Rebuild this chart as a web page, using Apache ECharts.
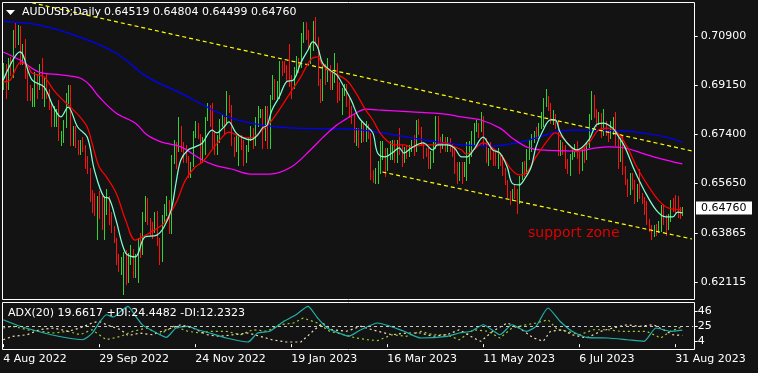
<!DOCTYPE html>
<html><head><meta charset="utf-8">
<script src="https://cdn.jsdelivr.net/npm/echarts@6/dist/echarts.min.js"></script>
<style>html,body{margin:0;padding:0;background:#131313;}#c{width:758px;height:373px;}</style>
</head><body><div id="c"></div>
<script>
const symbolName = "AUDUSD;Daily";
const tickLabels = ["4 Aug 2022","29 Sep 2022","24 Nov 2022","19 Jan 2023","16 Mar 2023","11 May 2023","6 Jul 2023","31 Aug 2023"];
const tickStep = 40;
const priceTicks = [0.70900,0.69150,0.67400,0.65650,0.63865,0.62115];
const adxTicks = [46,25,4];
const adxInfo = "ADX(20) 19.6617 +DI:24.4482 -DI:12.2323";
const annotation = "support zone";

const opens = [
.6920,.6985,.6910,.7000,.6967,.7100,.7076,.7123,.7030,.7050,
.6955,.6885,.6875,.6880,.6945,.6910,.6975,.6880,.6940,.6880,
.6845,.6780,.6800,.6810,.6730,.6745,.6770,.6870,.6890,.6725,
.6760,.6710,.6700,.6710,.6690,.6635,.6610,.6520,.6480,.6465,
.6500,.6470,.6405,.6500,.6510,.6435,.6395,.6365,.6285,.6270,
.6285,.6310,.6215,.6305,.6315,.6240,.6285,.6365,.6320,.6450,
.6495,.6430,.6420,.6395,.6405,.6360,.6290,.6445,.6480,.6500,
.6430,.6655,.6695,.6685,.6735,.6710,.6665,.6655,.6590,.6630,
.6745,.6765,.6735,.6650,.6715,.6795,.6815,.6785,.6705,.6690,
.6720,.6790,.6795,.6785,.6850,.6840,.6720,.6700,.6710,.6725,
.6700,.6650,.6690,.6725,.6750,.6710,.6795,.6810,.6815,.6730,
.6825,.6720,.6870,.6920,.6880,.6915,.6980,.6975,.6970,.6940,
.6925,.6920,.6970,.7000,.6985,.7090,.7110,.7105,.7050,.7055,
.7140,.7075,.6920,.6870,.6975,.6940,.6965,.6920,.6945,.6990,
.6880,.6870,.6895,.6905,.6860,.6820,.6800,.6725,.6740,.6730,
.6775,.6735,.6750,.6740,.6590,.6585,.6605,.6630,.6655,.6680,
.6625,.6660,.6690,.6710,.6660,.6715,.6680,.6650,.6685,.6670,
.6685,.6710,.6685,.6770,.6760,.6705,.6680,.6670,.6640,.6650,
.6700,.6780,.6710,.6705,.6725,.6700,.6710,.6695,.6680,.6610,
.6595,.6615,.6610,.6625,.6690,.6700,.6710,.6765,.6770,.6760,
.6785,.6720,.6645,.6680,.6665,.6660,.6640,.6650,.6645,.6610,
.6570,.6520,.6515,.6535,.6530,.6505,.6585,.6630,.6605,.6670,
.6700,.6730,.6745,.6740,.6770,.6795,.6860,.6870,.6845,.6795,
.6800,.6780,.6680,.6705,.6690,.6630,.6615,.6660,.6670,.6700,
.6670,.6620,.6680,.6670,.6700,.6800,.6860,.6815,.6785,.6810,
.6745,.6780,.6750,.6745,.6775,.6780,.6715,.6650,.6720,.6610,
.6570,.6535,.6580,.6565,.6510,.6545,.6520,.6505,.6480,.6425,
.6410,.6380,.6405,.6400,.6405,.6470,.6430,.6410,.6440,.6495,
.6490,.6470,.6455,.64519];
const highs = [
.6995,.6990,.7010,.7015,.7110,.7136,.7130,.7125,.7060,.7080,
.6970,.6915,.6905,.6960,.6955,.6990,.7010,.6945,.6955,.6900,
.6850,.6840,.6830,.6860,.6750,.6790,.6885,.6915,.6915,.6770,
.6770,.6720,.6720,.6730,.6700,.6660,.6620,.6540,.6530,.6520,
.6535,.6520,.6520,.6545,.6520,.6460,.6410,.6370,.6310,.6300,
.6320,.6325,.6315,.6345,.6330,.6310,.6370,.6385,.6460,.6520,
.6510,.6440,.6425,.6460,.6465,.6370,.6450,.6490,.6520,.6505,
.6665,.6720,.6710,.6800,.6770,.6710,.6700,.6660,.6640,.6750,
.6785,.6780,.6740,.6730,.6800,.6850,.6845,.6850,.6750,.6735,
.6795,.6810,.6800,.6893,.6880,.6845,.6730,.6735,.6740,.6735,
.6720,.6700,.6730,.6770,.6760,.6800,.6840,.6830,.6830,.6840,
.6840,.6880,.6950,.6935,.6930,.7000,.7000,.7000,.6985,.7060,
.6950,.6980,.7020,.7010,.7100,.7140,.7140,.7110,.7065,.7145,
.7158,.7085,.6935,.6985,.6990,.7010,.6985,.6960,.7030,.6995,
.6925,.6905,.6920,.6920,.6870,.6840,.6810,.6760,.6760,.6785,
.6780,.6785,.6775,.6745,.6610,.6620,.6645,.6715,.6715,.6690,
.6690,.6715,.6720,.6720,.6720,.6760,.6700,.6695,.6700,.6700,
.6720,.6735,.6790,.6795,.6765,.6710,.6690,.6690,.6680,.6710,
.6805,.6805,.6730,.6740,.6730,.6730,.6725,.6705,.6690,.6640,
.6640,.6640,.6640,.6710,.6715,.6750,.6780,.6790,.6780,.6818,
.6805,.6725,.6690,.6710,.6680,.6680,.6690,.6670,.6665,.6620,
.6575,.6535,.6545,.6560,.6545,.6590,.6640,.6645,.6685,.6720,
.6740,.6750,.6765,.6780,.6820,.6870,.6900,.6875,.6850,.6825,
.6810,.6785,.6720,.6710,.6700,.6650,.6670,.6690,.6705,.6715,
.6675,.6685,.6695,.6710,.6810,.6895,.6880,.6830,.6820,.6815,
.6830,.6785,.6755,.6785,.6800,.6820,.6740,.6725,.6735,.6625,
.6580,.6600,.6600,.6575,.6560,.6615,.6530,.6515,.6500,.6435,
.6415,.6415,.6420,.6430,.6485,.6490,.6450,.6455,.6505,.6510,
.6522,.6520,.6480,.64804];
const lows = [
.6900,.6870,.6900,.6950,.6945,.7050,.7060,.6990,.6990,.6940,
.6860,.6860,.6840,.6840,.6870,.6900,.6870,.6840,.6870,.6830,
.6770,.6770,.6770,.6720,.6700,.6710,.6765,.6850,.6700,.6700,
.6695,.6670,.6670,.6680,.6620,.6600,.6500,.6460,.6450,.6365,
.6440,.6400,.6365,.6455,.6420,.6390,.6355,.6275,.6250,.6240,
.6170,.6205,.6210,.6275,.6230,.6230,.6210,.6300,.6310,.6430,
.6420,.6380,.6370,.6390,.6345,.6275,.6285,.6425,.6450,.6385,
.6385,.6635,.6620,.6680,.6680,.6640,.6640,.6585,.6585,.6625,
.6730,.6725,.6640,.6640,.6670,.6790,.6770,.6695,.6670,.6670,
.6710,.6770,.6740,.6780,.6820,.6700,.6660,.6680,.6630,.6685,
.6630,.6640,.6680,.6720,.6690,.6700,.6770,.6800,.6690,.6720,
.6690,.6690,.6865,.6865,.6860,.6870,.6950,.6960,.6930,.6910,
.6870,.6905,.6950,.6960,.6980,.7070,.7080,.7045,.6995,.7040,
.7060,.6915,.6855,.6860,.6920,.6930,.6900,.6900,.6925,.6855,
.6860,.6810,.6880,.6840,.6800,.6780,.6710,.6700,.6695,.6710,
.6715,.6715,.6725,.6580,.6568,.6565,.6565,.6600,.6650,.6590,
.6610,.6650,.6650,.6640,.6640,.6670,.6625,.6640,.6655,.6660,
.6680,.6665,.6680,.6740,.6700,.6655,.6660,.6620,.6620,.6640,
.6690,.6700,.6675,.6690,.6680,.6680,.6680,.6660,.6600,.6565,
.6575,.6565,.6590,.6575,.6635,.6660,.6700,.6750,.6730,.6750,
.6700,.6640,.6630,.6650,.6630,.6630,.6620,.6630,.6595,.6560,
.6515,.6490,.6505,.6510,.6458,.6495,.6580,.6590,.6600,.6650,
.6680,.6710,.6725,.6725,.6760,.6770,.6840,.6825,.6780,.6775,
.6760,.6665,.6665,.6670,.6620,.6600,.6595,.6650,.6660,.6655,
.6600,.6610,.6640,.6650,.6695,.6795,.6800,.6770,.6775,.6730,
.6735,.6735,.6715,.6725,.6740,.6700,.6620,.6645,.6598,.6560,
.6520,.6525,.6545,.6495,.6500,.6510,.6495,.6455,.6420,.6395,
.6365,.6375,.6380,.6390,.6395,.6420,.6380,.6400,.6430,.6465,
.6455,.6445,.6440,.64499];
const closes = [
.6985,.6910,.7000,.6967,.7100,.7076,.7123,.7030,.7050,.6955,
.6885,.6875,.6880,.6945,.6910,.6975,.6880,.6940,.6880,.6845,
.6780,.6800,.6810,.6730,.6745,.6770,.6870,.6890,.6725,.6760,
.6710,.6700,.6710,.6690,.6635,.6610,.6520,.6480,.6465,.6500,
.6470,.6405,.6500,.6510,.6435,.6395,.6365,.6285,.6270,.6285,
.6310,.6215,.6305,.6315,.6240,.6285,.6365,.6320,.6450,.6495,
.6430,.6420,.6395,.6405,.6360,.6290,.6445,.6480,.6500,.6430,
.6655,.6695,.6685,.6735,.6710,.6665,.6655,.6590,.6630,.6745,
.6765,.6735,.6650,.6715,.6795,.6815,.6785,.6705,.6690,.6720,
.6790,.6795,.6785,.6850,.6840,.6720,.6700,.6710,.6725,.6700,
.6650,.6690,.6725,.6750,.6710,.6795,.6810,.6815,.6730,.6825,
.6720,.6870,.6920,.6880,.6915,.6980,.6975,.6970,.6940,.6925,
.6920,.6970,.7000,.6985,.7090,.7110,.7105,.7050,.7055,.7140,
.7075,.6920,.6870,.6975,.6940,.6965,.6920,.6945,.6990,.6880,
.6870,.6895,.6905,.6860,.6820,.6800,.6725,.6740,.6730,.6775,
.6735,.6750,.6740,.6590,.6585,.6605,.6630,.6655,.6680,.6625,
.6660,.6690,.6710,.6660,.6715,.6680,.6650,.6685,.6670,.6685,
.6710,.6685,.6770,.6760,.6705,.6680,.6670,.6640,.6650,.6700,
.6780,.6710,.6705,.6725,.6700,.6710,.6695,.6680,.6610,.6595,
.6615,.6610,.6625,.6690,.6700,.6710,.6765,.6770,.6760,.6785,
.6720,.6645,.6680,.6665,.6660,.6640,.6650,.6645,.6610,.6570,
.6520,.6515,.6535,.6530,.6505,.6585,.6630,.6605,.6670,.6700,
.6730,.6745,.6740,.6770,.6795,.6860,.6870,.6845,.6795,.6800,
.6780,.6680,.6705,.6690,.6630,.6615,.6660,.6670,.6700,.6670,
.6620,.6680,.6670,.6700,.6800,.6860,.6815,.6785,.6810,.6745,
.6780,.6750,.6745,.6775,.6780,.6715,.6650,.6720,.6610,.6570,
.6535,.6580,.6565,.6510,.6545,.6520,.6505,.6480,.6425,.6410,
.6380,.6405,.6400,.6405,.6470,.6430,.6410,.6440,.6495,.6490,
.6470,.6455,.6450,.64760];

// moving averages: [bar index, value]
const fastMA = [[0,0.6933],[7,0.7033],[12,0.6933],[17,0.6908],[21,0.6836],[24,0.6801],[27,0.6836],[31,0.6765],[35,0.6729],[38,0.6611],[42,0.6515],[44,0.6511],[47,0.6433],[51,0.6315],[55,0.6301],[59,0.6372],[64,0.6379],[67,0.6408],[70,0.6469],[72,0.6565],[74,0.6647],[77,0.6683],[80,0.6694],[83,0.6708],[87,0.6754],[89,0.6744],[92,0.6765],[94,0.6783],[97,0.6744],[100,0.6726],[103,0.6719],[106,0.6736],[108,0.6761],[110,0.6772],[112,0.6826],[115,0.6872],[118,0.6926],[121,0.6933],[124,0.6994],[127,0.7040],[129,0.7069],[131,0.7051],[133,0.6994],[136,0.6969],[139,0.6951],[142,0.6908],[145,0.6861],[148,0.6801],[151,0.6772],[154,0.6744],[156,0.6672],[159,0.6658],[162,0.6672],[165,0.6690],[167,0.6672],[170,0.6690],[175,0.6708],[179,0.6683],[181,0.6701],[185,0.6701],[188,0.6690],[191,0.6658],[193,0.6658],[196,0.6683],[200,0.6729],[202,0.6708],[204,0.6683],[207,0.6672],[210,0.6622],[212,0.6565],[215,0.6558],[217,0.6576],[220,0.6622],[222,0.6694],[225,0.6754],[228,0.6790],[230,0.6790],[232,0.6747],[235,0.6708],[239,0.6683],[244,0.6719],[247,0.6772],[250,0.6779],[254,0.6761],[256,0.6736],[259,0.6694],[263,0.6611],[267,0.6540],[272,0.6469],[276,0.6444],[279,0.6444],[281,0.6461],[283,0.6458]];
const midMA = [[0,0.6926],[3,0.6933],[5,0.6969],[7,0.6994],[10,0.6986],[12,0.6958],[17,0.6944],[21,0.6897],[24,0.6869],[28,0.6836],[32,0.6801],[35,0.6765],[37,0.6708],[40,0.6622],[43,0.6587],[47,0.6530],[51,0.6433],[55,0.6361],[58,0.6372],[63,0.6397],[67,0.6422],[72,0.6494],[76,0.6576],[80,0.6622],[83,0.6640],[87,0.6683],[92,0.6736],[94,0.6747],[99,0.6729],[103,0.6726],[107,0.6747],[111,0.6779],[115,0.6826],[119,0.6879],[124,0.6944],[128,0.7004],[131,0.7015],[133,0.6986],[137,0.6961],[143,0.6933],[147,0.6886],[151,0.6826],[154,0.6790],[157,0.6744],[160,0.6715],[163,0.6701],[167,0.6701],[170,0.6694],[175,0.6701],[179,0.6701],[184,0.6708],[188,0.6694],[191,0.6683],[193,0.6668],[196,0.6683],[200,0.6708],[204,0.6690],[208,0.6658],[212,0.6611],[215,0.6594],[218,0.6601],[222,0.6658],[227,0.6719],[230,0.6744],[234,0.6719],[239,0.6676],[244,0.6708],[248,0.6754],[252,0.6761],[256,0.6744],[260,0.6694],[264,0.6622],[269,0.6551],[273,0.6504],[277,0.6476],[283,0.6469]];
const slowMA = [[0,0.7033],[7,0.7004],[15,0.6961],[24,0.6951],[32,0.6940],[36,0.6915],[40,0.6872],[47,0.6815],[55,0.6779],[60,0.6736],[66,0.6711],[74,0.6694],[83,0.6647],[88,0.6629],[95,0.6615],[103,0.6597],[111,0.6597],[120,0.6622],[128,0.6683],[133,0.6726],[139,0.6772],[143,0.6794],[147,0.6815],[151,0.6829],[156,0.6826],[170,0.6819],[184,0.6811],[191,0.6801],[199,0.6790],[207,0.6761],[212,0.6726],[218,0.6694],[224,0.6683],[239,0.6679],[247,0.6690],[252,0.6694],[259,0.6690],[266,0.6672],[273,0.6654],[283,0.6633]];
const longMA = [[0,0.7142],[15,0.7129],[32,0.7086],[47,0.7029],[60,0.6944],[74,0.6886],[85,0.6836],[95,0.6797],[108,0.6772],[122,0.6761],[143,0.6758],[156,0.6747],[170,0.6726],[184,0.6708],[191,0.6701],[204,0.6697],[214,0.6708],[225,0.6733],[232,0.6751],[239,0.6754],[259,0.6751],[269,0.6740],[276,0.6729],[283,0.6711]];
const upperTrend = [[12,0.72086],[287,0.66793]];
const lowerTrend = [[158,0.66043],[287,0.63650]];

const adxLine = [[0,34.2],[7,25.0],[12,20.2],[20,13.2],[27,8.6],[33,6.2],[37,15],[40,30],[43,41.2],[46,38],[49,46.0],[52,53.0],[55,40],[58,27],[64,15.6],[68,9.6],[72,22.6],[77,25.0],[81,20.2],[86,15.6],[93,8.6],[102,3.0],[106,15.6],[111,18.0],[117,32.0],[122,41.2],[127,53.0],[131,36.6],[135,22.6],[140,15.6],[144,11.0],[149,20.2],[156,29.6],[167,18.0],[174,8.6],[185,11.0],[190,15.6],[195,18.0],[200,27.2],[207,13.2],[212,27.2],[218,18.0],[222,25.0],[227,50.6],[232,32.0],[237,18.0],[243,9.6],[252,8.6],[260,6.2],[267,4.0],[272,22.6],[278,18.0],[283,19.66]];
const plusDI = [[0,22.6],[4,25],[10,20.2],[15,18],[21,15.6],[27,18],[32,13.2],[37,20.2],[43,6.2],[49,11],[54,18],[60,22.6],[65,13.2],[71,25],[77,18],[82,15.6],[87,18],[93,18],[99,13.2],[104,20.2],[110,18],[115,27.2],[121,29.6],[125,36.6],[131,29.6],[136,18],[142,13.2],[147,8.6],[152,6.2],[156,5],[162,13.2],[168,11],[174,18],[179,13.2],[185,13.2],[190,6],[196,20.2],[202,18],[207,8.6],[212,22.6],[218,27.2],[222,29.6],[227,34.2],[231,20.2],[235,18],[240,13.2],[246,20.2],[252,20.2],[257,18],[262,18],[268,18],[274,8.6],[278,18],[283,24.45]];
const minusDI = [[0,6.2],[4,11],[10,13.2],[15,20.2],[21,22.6],[27,18],[32,22.6],[37,29.6],[40,32],[43,27.2],[49,20.2],[52,12],[57,15.6],[62,13.2],[68,20.2],[74,27.2],[79,22.6],[85,13.2],[90,11],[96,13.2],[102,15.6],[107,11],[112,6.2],[118,3],[124,3],[129,18],[133,29.6],[137,20.2],[143,18],[149,25],[156,18],[162,13.2],[168,15.6],[174,15.6],[179,11],[185,13.2],[190,20.2],[196,8.6],[199,4],[204,18],[210,29.6],[215,22.6],[221,8.6],[225,4],[228,18],[233,20.2],[237,13.2],[243,8.6],[249,18],[254,22.6],[260,27.2],[265,25],[271,27.2],[275,20.2],[279,13.2],[283,12.23]];
const adxLevel = 25;

const FONT = 'DejaVu Sans';
const nCats = 288;
const categories = Array.from({length: nCats}, (_, i) => String(i));
const isTick = (idx) => idx % tickStep === 0 && idx / tickStep < tickLabels.length;

const chart = echarts.init(document.getElementById('c'), null, {renderer: 'canvas'});
const maLine = (data, color, z) => ({
  type: 'line', xAxisIndex: 0, yAxisIndex: 0, data, symbol: 'none', smooth: 0.35,
  lineStyle: {color, width: 1.25}, z, silent: true, animation: false
});
const trend = (data) => ({
  type: 'line', xAxisIndex: 0, yAxisIndex: 0, data, symbol: 'none',
  lineStyle: {color: '#ffff00', width: 1.2, type: [4, 3]}, z: 4, silent: true, animation: false
});

chart.setOption({
  backgroundColor: '#131313',
  animation: false,
  grid: [
    {left: 2, top: 2, width: 691.2, height: 297},
    {left: 2, top: 302, width: 691.2, height: 47}
  ],
  xAxis: [
    {type: 'category', gridIndex: 0, data: categories, boundaryGap: true,
     axisLine: {show: false}, axisTick: {show: false}, axisLabel: {show: false}, splitLine: {show: false}},
    {type: 'category', gridIndex: 1, data: categories, boundaryGap: true,
     axisLine: {show: false},
     axisTick: {show: true, alignWithLabel: true, interval: (i) => isTick(i), length: 3, lineStyle: {color: '#ffffff'}},
     axisLabel: {show: true, interval: (i) => isTick(i), formatter: (v, i) => tickLabels[Math.round(i / tickStep)],
       color: '#ffffff', fontFamily: FONT, fontSize: 11, align: 'left', margin: 5},
     splitLine: {show: false}}
  ],
  yAxis: [
    {type: 'value', gridIndex: 0, position: 'right', min: 0.61507, max: 0.72114, offset: 1.5,
     axisLine: {show: false}, splitLine: {show: false},
     axisTick: {show: true, customValues: priceTicks, length: 3, lineStyle: {color: '#ffffff'}},
     axisLabel: {show: true, customValues: priceTicks, formatter: (v) => v.toFixed(5),
       color: '#ffffff', fontFamily: FONT, fontSize: 11, margin: 6}},
    {type: 'value', gridIndex: 1, position: 'right', min: -6.78, max: 59.02, offset: 1.5,
     axisLine: {show: false}, splitLine: {show: false},
     axisTick: {show: true, customValues: adxTicks, length: 3, lineStyle: {color: '#ffffff'}},
     axisLabel: {show: true, customValues: adxTicks, formatter: (v) => String(v),
       color: '#ffffff', fontFamily: FONT, fontSize: 11, margin: 3}}
  ],
  series: [
    {
      type: 'custom', xAxisIndex: 0, yAxisIndex: 0, z: 2, silent: true,
      data: opens.map((o, i) => [i, o, highs[i], lows[i], closes[i]]),
      encode: {x: 0, y: [2, 3]},
      renderItem: function (params, api) {
        const i = api.value(0);
        const hi = api.coord([i, api.value(2)]);
        const lo = api.coord([i, api.value(3)]);
        const up = api.value(4) >= api.value(1);
        const x = Math.round(hi[0]) + 0.5;
        return {type: 'line', shape: {x1: x, y1: Math.round(hi[1]), x2: x, y2: Math.round(lo[1]) + 1},
          style: {stroke: up ? '#32d232' : '#ff1010', lineWidth: 1}};
      }
    },
    maLine(longMA, '#0000ff', 3),
    maLine(slowMA, '#ff00ff', 3),
    maLine(midMA, '#ff0000', 5),
    maLine(fastMA, '#7fffd4', 6),
    trend(upperTrend),
    trend(lowerTrend),
    {type: 'line', xAxisIndex: 1, yAxisIndex: 1, data: adxLine, symbol: 'none', smooth: 0.2,
     lineStyle: {color: '#20b2aa', width: 1.2}, z: 4, silent: true,
     markLine: {silent: true, symbol: 'none', label: {show: false}, animation: false,
       lineStyle: {color: '#c8c8c8', width: 1, type: [3, 3]}, data: [{yAxis: adxLevel}]}},
    {type: 'line', xAxisIndex: 1, yAxisIndex: 1, data: plusDI, symbol: 'none',
     lineStyle: {color: '#9acd32', width: 1.2, type: [2, 3]}, z: 3, silent: true},
    {type: 'line', xAxisIndex: 1, yAxisIndex: 1, data: minusDI, symbol: 'none',
     lineStyle: {color: '#f5deb3', width: 1.2, type: [2, 3]}, z: 3, silent: true}
  ]
});

const last = closes.length - 1;
const py = Math.round(chart.convertToPixel({yAxisIndex: 0}, closes[last]));
const header = [opens[last], highs[last], lows[last], closes[last]].map(v => v.toFixed(5)).join(' ');

chart.setOption({
  graphic: [
    {type: 'rect', z: 100, silent: true, shape: {x: 2.5, y: 2.5, width: 692, height: 297},
     style: {fill: 'none', stroke: '#ffffff', lineWidth: 1}},
    {type: 'rect', z: 100, silent: true, shape: {x: 2.5, y: 302.5, width: 692, height: 47},
     style: {fill: 'none', stroke: '#ffffff', lineWidth: 1}},
    {type: 'polygon', z: 101, silent: true, shape: {points: [[6, 10], [15, 10], [10.5, 15]]},
     style: {fill: '#ffffff'}},
    {type: 'text', z: 101, silent: true, x: 22, y: 12,
     style: {text: symbolName, fill: '#ffffff', font: '11px "DejaVu Sans"', verticalAlign: 'middle'}},
    {type: 'text', z: 101, silent: true, x: 104, y: 12,
     style: {text: header, fill: '#ffffff', font: '11px "DejaVu Sans"', verticalAlign: 'middle'}},
    {type: 'text', z: 101, silent: true, x: 8, y: 313,
     style: {text: adxInfo, fill: '#ffffff', font: '11px "DejaVu Sans"', verticalAlign: 'middle'}},
    {type: 'text', z: 101, silent: true, x: 528, y: 233,
     style: {text: annotation, fill: '#e00000', font: '14px "DejaVu Sans"', verticalAlign: 'middle'}},
    {type: 'rect', z: 101, silent: true, shape: {x: 696, y: py - 6.5, width: 56, height: 13},
     style: {fill: '#ffffff'}},
    {type: 'text', z: 102, silent: true, x: 701, y: py,
     style: {text: closes[last].toFixed(5), fill: '#000000', font: '11px "DejaVu Sans"', verticalAlign: 'middle'}}
  ]
});
</script>
</body></html>
